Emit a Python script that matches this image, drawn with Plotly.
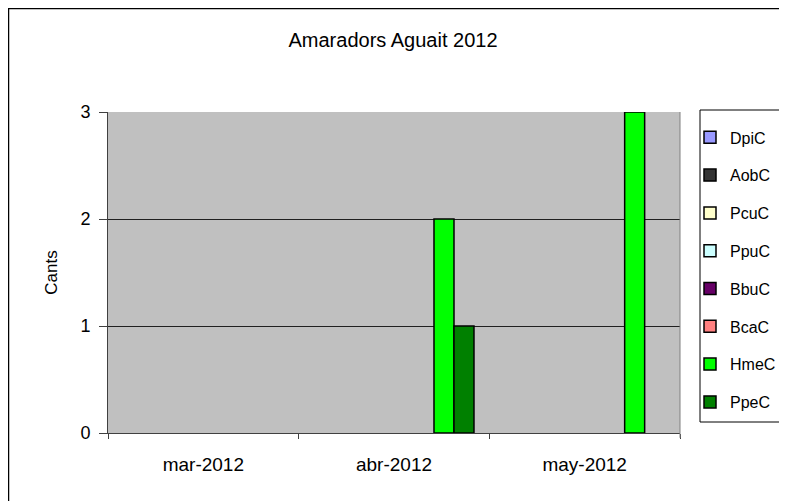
import plotly.graph_objects as go

W, H = 787, 501
OFF = 8  # the page body margin shifts the figure by 8px

months = ["mar-2012", "abr-2012", "may-2012"]
series_names = ["DpiC", "AobC", "PcuC", "PpuC", "BbuC", "BcaC", "HmeC", "PpeC"]
series_colors = ["#9999FF", "#333333", "#FFFFCC", "#CCFFFF",
                 "#660066", "#FF8080", "#00FF00", "#008000"]
counts = {
    "DpiC": [0, 0, 0],
    "AobC": [0, 0, 0],
    "PcuC": [0, 0, 0],
    "PpuC": [0, 0, 0],
    "BbuC": [0, 0, 0],
    "BcaC": [0, 0, 0],
    "HmeC": [0, 2, 3],
    "PpeC": [0, 1, 0],
}


def px_x(x):
    return (x - OFF) / W


def px_y(y):
    return 1 - (y - OFF) / H


fig = go.Figure()
for name, color in zip(series_names, series_colors):
    # zero counts are not drawn (like the original chart)
    vals = [v if v else None for v in counts[name]]
    fig.add_trace(go.Bar(
        x=months, y=vals, name=name, legendgroup=name,
        marker=dict(color=color, line=dict(color="black", width=1.5)),
    ))

# outer chart frame
fig.add_shape(type="rect", xref="paper", yref="paper",
              x0=0.5 / W, x1=1.05, y0=-0.05, y1=1 - 0.5 / H,
              line=dict(color="black", width=1.5), fillcolor="rgba(0,0,0,0)",
              layer="below")
# legend box
fig.add_shape(type="rect", xref="paper", yref="paper",
              x0=px_x(700), x1=px_x(783), y0=px_y(422), y1=px_y(110),
              line=dict(color="black", width=1), fillcolor="white",
              layer="below")
# grey right border of the plot area
fig.add_shape(type="line", xref="x domain", yref="y domain",
              x0=1, x1=1, y0=-0.015, y1=1,
              line=dict(color="#808080", width=1))

fig.update_layout(
    width=W, height=H, autosize=False,
    margin=dict(l=0, r=0, t=0, b=0, pad=0),
    paper_bgcolor="white",
    plot_bgcolor="#C0C0C0",
    font=dict(family="Liberation Sans, Arial, sans-serif", size=18, color="black"),
    title=dict(text="Amaradors Aguait 2012", x=px_x(393), xanchor="center",
               y=px_y(40), yanchor="middle", font=dict(size=20)),
    barmode="group",
    bargap=0.161,
    bargroupgap=0,
    showlegend=True,
    xaxis=dict(domain=[px_x(108), px_x(680)], showline=True, linecolor="#404040",
               linewidth=1, ticks="outside", tickson="boundaries",
               ticklen=5, tickcolor="#404040", showgrid=False, automargin=False,
               tickfont=dict(size=19), ticklabelstandoff=14),
    yaxis=dict(domain=[px_y(433), px_y(112)], range=[0, 3],
               tickvals=[0, 1, 2, 3], showline=True, linecolor="#404040",
               linewidth=1, ticks="outside", ticklen=8, tickcolor="#404040",
               gridcolor="#202020", gridwidth=1, zeroline=False, automargin=False,
               tickfont=dict(size=18), ticklabelstandoff=5,
               title=dict(text="Cants", standoff=18, font=dict(size=17))),
    legend=dict(x=px_x(690), xanchor="left", y=px_y(110), yanchor="top",
                borderwidth=0, bgcolor="rgba(0,0,0,0)",
                tracegroupgap=14, itemwidth=30, font=dict(size=16),
                title=dict(text=" ", font=dict(size=8))),
)

fig.write_html("out.html")
